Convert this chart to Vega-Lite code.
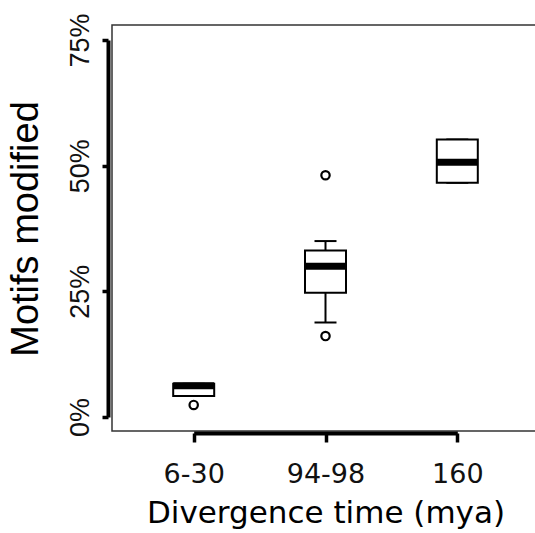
{
  "$schema": "https://vega.github.io/schema/vega-lite/v6.json",
  "autosize": {"type": "none"},
  "padding": {"left": 112, "top": 25, "right": 0, "bottom": 102},
  "width": 427,
  "height": 406,
  "background": "white",
  "config": {
    "view": {"stroke": "#333", "strokeWidth": 1.5},
    "axis": {"grid": false, "domain": true, "domainColor": "black", "domainWidth": 3.5, "domainOpacity": 1, "tickColor": "black", "tickWidth": 3.5, "labelColor": "#111", "titleColor": "black", "titleFontWeight": "normal", "labelFlush": false, "labelOverlap": false},
    "axisY": {"domainWidth": 4, "domainColor": "black"},
    "axisX": {"domainWidth": 4, "domainColor": "black"}
  },
  "data": {"values": [
    {"group": "6-30", "lo": 4.2, "q1": 4.2, "med": 6.2, "q3": 6.6, "hi": 6.6},
    {"group": "94-98", "lo": 18.8, "q1": 24.7, "med": 30.0, "q3": 33.1, "hi": 35.0},
    {"group": "160", "lo": 46.6, "q1": 46.6, "med": 50.7, "q3": 55.2, "hi": 55.2}
  ]},
  "encoding": {
    "x": {
      "field": "group", "type": "nominal",
      "scale": {"type": "point", "domain": ["6-30", "94-98", "160"], "range": [81.7, 345.3], "padding": 0},
      "axis": {"title": "Divergence time (mya)", "offset": 2, "tickSize": 9, "labelPadding": 40, "labelAngle": 0, "labelBaseline": "alphabetic", "labelFont": "DejaVu Sans", "labelFontSize": 27, "titleFont": "DejaVu Sans", "titleFontSize": 31, "titleBaseline": "alphabetic", "titlePadding": 35}
    }
  },
  "layer": [
    {"mark": {"type": "rule", "color": "black", "strokeWidth": 2},
     "encoding": {"y": {"field": "lo", "type": "quantitative", "scale": {"domain": [0, 75], "range": [392, 15], "zero": false, "nice": false},
       "axis": {"title": "Motifs modified", "values": [0, 25, 50, 75], "labelExpr": "datum.value + '%'", "offset": 4, "tickSize": 6, "labelPadding": 14, "labelAngle": -90, "labelAlign": "center", "labelBaseline": "alphabetic", "labelFont": "Liberation Sans", "labelFontSize": 27, "titleFont": "Liberation Sans", "titleFontSize": 38, "titleBaseline": "alphabetic", "titlePadding": 29}},
       "y2": {"field": "q1"}}},
    {"mark": {"type": "rule", "color": "black", "strokeWidth": 2},
     "encoding": {"y": {"field": "q3", "type": "quantitative"}, "y2": {"field": "hi"}}},
    {"mark": {"type": "tick", "color": "black", "size": 22, "thickness": 2, "opacity": 1},
     "encoding": {"y": {"field": "lo", "type": "quantitative"}}},
    {"mark": {"type": "tick", "color": "black", "size": 22, "thickness": 2, "opacity": 1},
     "encoding": {"y": {"field": "hi", "type": "quantitative"}}},
    {"mark": {"type": "bar", "fill": "white", "stroke": "black", "strokeWidth": 2, "size": 41},
     "encoding": {"y": {"field": "q1", "type": "quantitative"}, "y2": {"field": "q3"}}},
    {"mark": {"type": "tick", "color": "black", "size": 41, "thickness": 7, "opacity": 1},
     "encoding": {"y": {"field": "med", "type": "quantitative"}}},
    {"data": {"values": [
      {"group": "6-30", "value": 2.4},
      {"group": "94-98", "value": 48.1},
      {"group": "94-98", "value": 16.1}
    ]},
     "mark": {"type": "point", "shape": "circle", "filled": false, "stroke": "black", "strokeWidth": 2.2, "size": 70, "opacity": 1},
     "encoding": {"y": {"field": "value", "type": "quantitative"}}}
  ]
}
